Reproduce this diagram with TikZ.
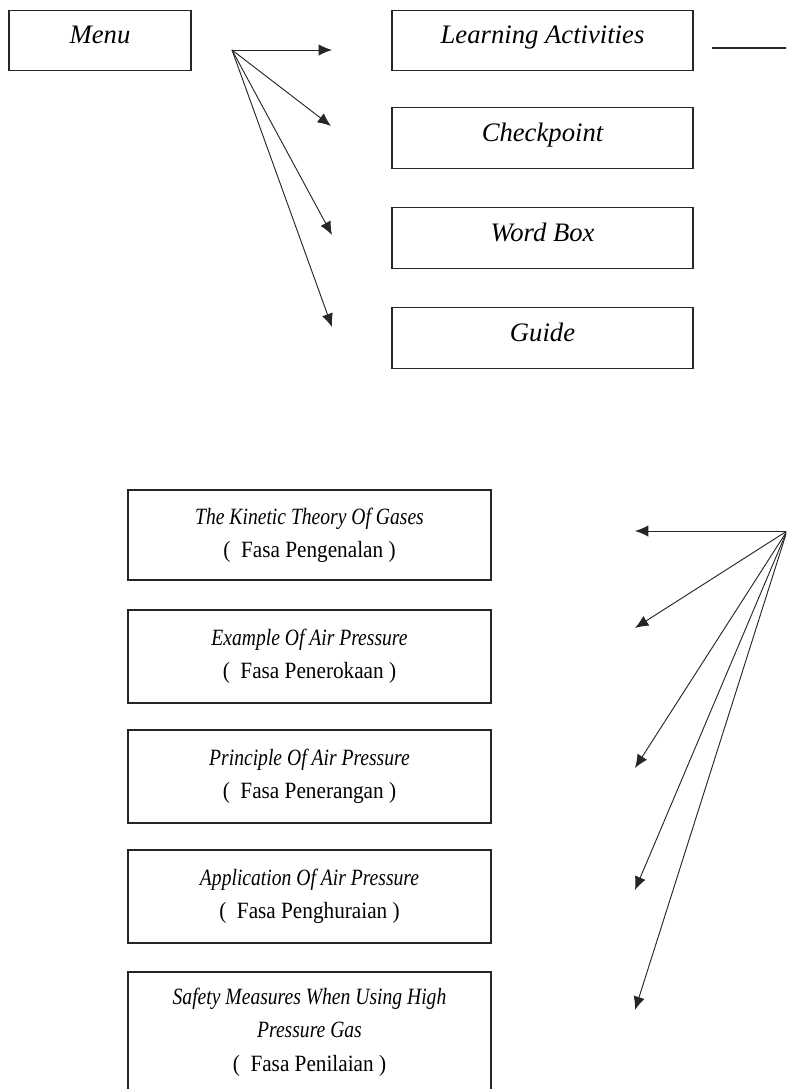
\documentclass[tikz,border=0pt]{standalone}
\usepackage{fontspec}
\setmainfont{Liberation Serif}
\newfontfamily\phasefont[UprightFeatures={FakeStretch=0.91}, ItalicFeatures={FakeStretch=0.84}]{Liberation Serif}
\usetikzlibrary{positioning,arrows.meta}

\begin{document}
\begin{tikzpicture}[x=.75pt, y=-.75pt,
  smallbox/.style={draw=black!85, line width=.8pt, minimum width=225.75pt, minimum height=45.5pt, inner sep=0pt,
    font=\fontsize{20}{24}\selectfont\itshape, text height=17pt, text depth=12pt},
  bigbox/.style={draw=black!85, line width=.8pt, minimum width=272.25pt, minimum height=69.75pt, inner sep=0pt,
    align=center, font=\phasefont\fontsize{17.5}{25}\selectfont},
  arr/.style={-{Latex[length=10pt,width=8.5pt]}, line width=.7pt, black!85}]
\useasboundingbox (0,0) rectangle (786,1089);
\clip (0,0) rectangle (786,1089);

% menu and its four items
\node [smallbox, minimum width=136.5pt] (menu) at (100,40.5) {Menu};
\node [smallbox] (learn) at (542.5,40.5) {Learning Activities};
\node [smallbox] (check) at (542.5,138) {Checkpoint};
\node [smallbox] (wordbox) at (542.5,238) {Word Box};
\node [smallbox] (guide) at (542.5,338) {Guide};

\coordinate (mfan) at (232,50);
\coordinate (t1) at (332,50);
\coordinate (t2) at (331,126);
\coordinate (t3) at (332,235);
\coordinate (t4) at (332,327);
\foreach \p in {t1,t2,t3,t4}
  \draw [arr] (mfan) -- (\p);

\coordinate (lain) at (712,48);
\coordinate (laout) at (795,48);
\draw [line width=.8pt, black!85] (lain) -- (laout);

% learning activities phases
\node [bigbox, minimum height=67.5pt] (kinetic) at (309.5,535)
  {\textit{The Kinetic Theory Of Gases}\\(~~Fasa Pengenalan )};
\node [bigbox] (example) at (309.5,656.5)
  {\textit{Example Of Air Pressure}\\(~~Fasa Penerokaan )};
\node [bigbox] (principle) at (309.5,776.5)
  {\textit{Principle Of Air Pressure}\\(~~Fasa Penerangan )};
\node [bigbox] (application) at (309.5,896.5)
  {\textit{Application Of Air Pressure}\\(~~Fasa Penghuraian )};
\node [bigbox, minimum height=90pt] (safety) at (309.5,1032)
  {\textit{Safety Measures When Using High}\\\textit{Pressure Gas}\\(~~Fasa Penilaian )};

\coordinate (lfan) at (787,531);
\coordinate (b1) at (635,531);
\coordinate (b2) at (635,628);
\coordinate (b3) at (635,768);
\coordinate (b4) at (635,890);
\coordinate (b5) at (635,1010);
\foreach \p in {b1,b2,b3,b4,b5}
  \draw [arr] (lfan) -- (\p);
\end{tikzpicture}
\end{document}
